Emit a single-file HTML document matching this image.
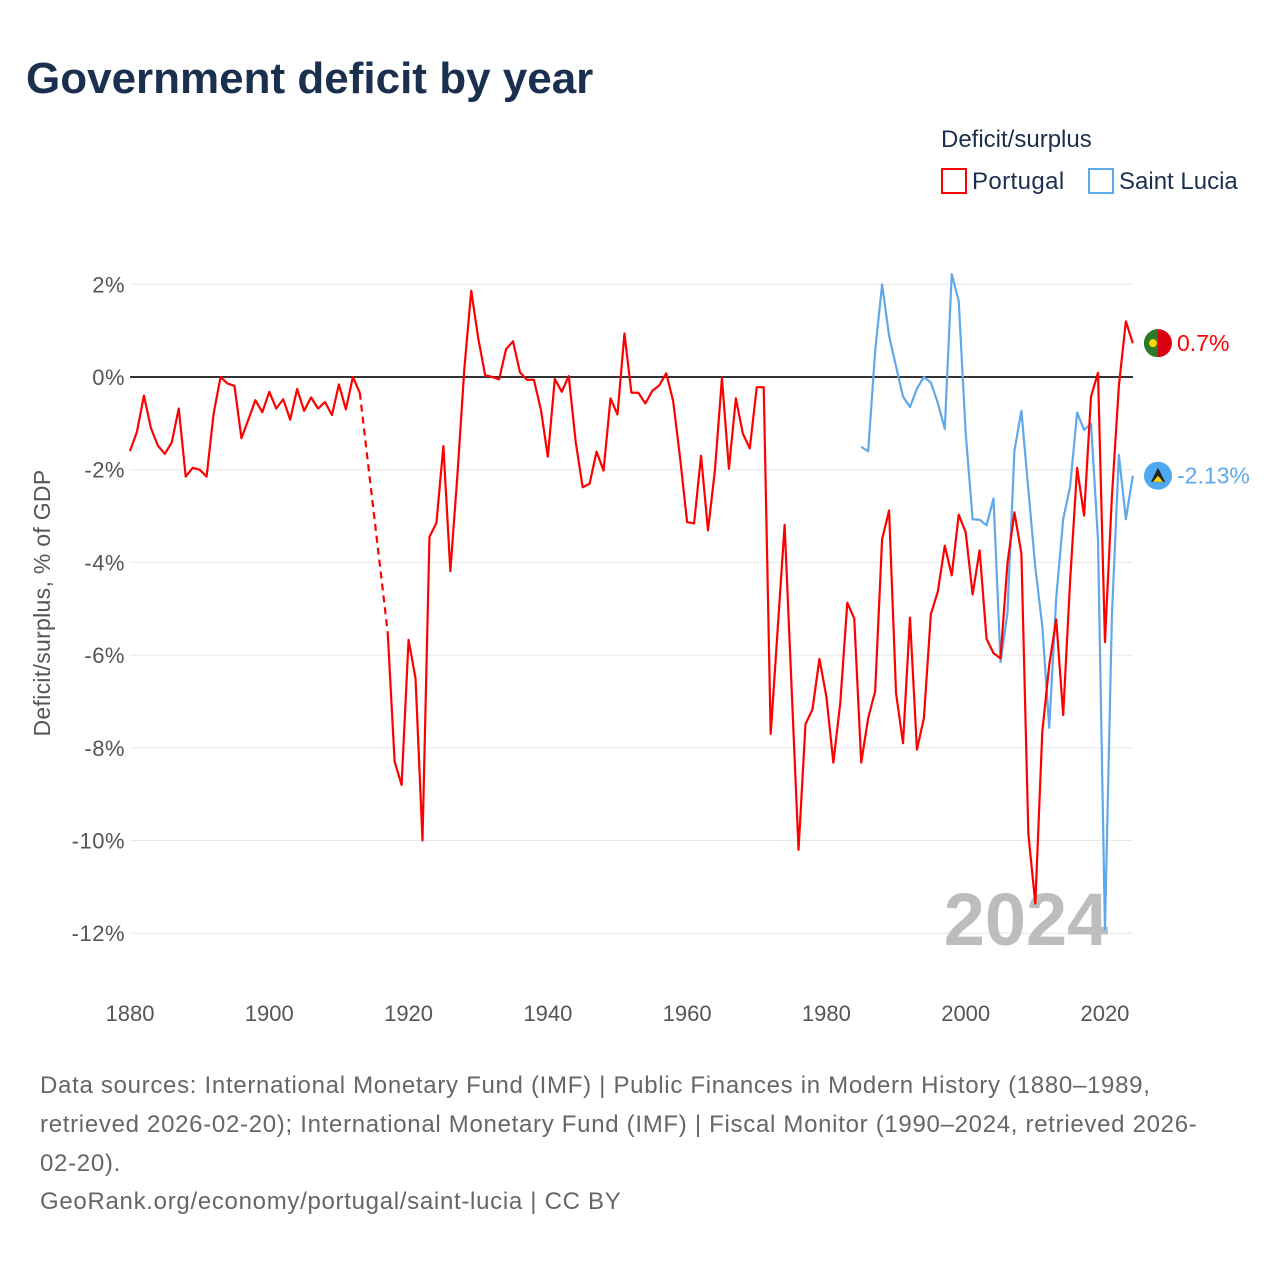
<!DOCTYPE html>
<html><head><meta charset="utf-8"><style>
body{margin:0;background:#fff;font-family:"Liberation Sans",sans-serif;}
svg text{font-family:"Liberation Sans",sans-serif;}
</style></head><body>
<svg width="1280" height="1280" xmlns="http://www.w3.org/2000/svg">
<text x="26" y="93" font-size="44" font-weight="bold" fill="#1b2f4f">Government deficit by year</text>
<text x="941" y="147" font-size="24" fill="#1b2f4f">Deficit/surplus</text>
<g><rect x="942" y="169" width="24" height="24" fill="none" stroke="#f00" stroke-width="2"/><text x="972" y="189" font-size="24" fill="#1b2f4f" letter-spacing="0.4">Portugal</text></g>
<g><rect x="1089" y="169" width="24" height="24" fill="none" stroke="#5fa8ea" stroke-width="2"/><text x="1119" y="189" font-size="24" fill="#1b2f4f">Saint Lucia</text></g>
<g id="grid"></g>
<text x="1026" y="945" font-size="74" font-weight="bold" fill="#bdbdbd" text-anchor="middle">2024</text>
<g id="marks"></g>
<text transform="translate(50,603) rotate(-90)" font-size="23" fill="#555" text-anchor="middle" letter-spacing="0.3">Deficit/surplus, % of GDP</text>
<g font-size="24" fill="#666" letter-spacing="0.7">
<text x="40" y="1093">Data sources: International Monetary Fund (IMF) | Public Finances in Modern History (1880–1989,</text>
<text x="40" y="1132">retrieved 2026-02-20); International Monetary Fund (IMF) | Fiscal Monitor (1990–2024, retrieved 2026-</text>
<text x="40" y="1171">02-20).</text>
<text x="40" y="1209">GeoRank.org/economy/portugal/saint-lucia | CC BY</text>
</g>
</svg>
<script>
const yTicks=[2,0,-2,-4,-6,-8,-10,-12];
const xTicks=[1880,1900,1920,1940,1960,1980,2000,2020];
const ptStart=1880;
const portugal=[-1.6,-1.18,-0.4,-1.1,-1.48,-1.66,-1.41,-0.68,-2.15,-1.96,-2.0,-2.15,-0.8,0,-0.14,-0.19,-1.32,-0.92,-0.5,-0.76,-0.32,-0.68,-0.48,-0.92,-0.26,-0.73,-0.44,-0.68,-0.54,-0.82,-0.16,-0.7,0,-0.34,null,null,null,-5.5,-8.3,-8.8,-5.67,-6.5,-10,-3.45,-3.15,-1.49,-4.19,-2.15,0.16,1.86,0.84,0.04,0,-0.05,0.6,0.77,0.1,-0.06,-0.06,-0.7,-1.72,-0.04,-0.32,0.02,-1.4,-2.38,-2.3,-1.61,-2.02,-0.46,-0.81,0.94,-0.34,-0.34,-0.57,-0.3,-0.18,0.08,-0.52,-1.76,-3.13,-3.16,-1.7,-3.31,-2.0,-0.02,-1.98,-0.46,-1.22,-1.54,-0.22,-0.22,-7.7,-5.45,-3.19,-6.7,-10.2,-7.49,-7.17,-6.08,-6.9,-8.32,-7.02,-4.87,-5.21,-8.32,-7.36,-6.78,-3.5,-2.88,-6.82,-7.9,-5.19,-8.04,-7.36,-5.12,-4.63,-3.64,-4.28,-2.97,-3.35,-4.69,-3.74,-5.65,-5.96,-6.07,-4.02,-2.92,-3.81,-9.86,-11.36,-7.66,-6.21,-5.23,-7.29,-4.39,-1.96,-2.99,-0.42,0.09,-5.72,-2.57,-0.19,1.2,0.73];
const slStart=1985;
const saintLucia=[-1.51,-1.6,0.56,2.0,0.89,0.23,-0.42,-0.65,-0.25,0,-0.12,-0.56,-1.12,2.22,1.64,-1.21,-3.07,-3.08,-3.2,-2.62,-6.15,-5.09,-1.59,-0.73,-2.43,-4.11,-5.37,-7.57,-4.77,-3.07,-2.36,-0.77,-1.14,-1.01,-3.5,-11.92,-5.14,-1.68,-3.07,-2.13];
const endLabels=["0.7%","-2.13%"];
const NS="http://www.w3.org/2000/svg";
const X=y=>130+(y-1880)*6.964;
const Y=v=>377-v*46.35;
const grid=document.getElementById('grid'),marks=document.getElementById('marks');
function mk(t,a,p){const e=document.createElementNS(NS,t);for(const k in a)e.setAttribute(k,a[k]);p.appendChild(e);return e;}
yTicks.forEach(v=>{
 const l=mk('line',{x1:130,x2:1133,y1:Y(v),y2:Y(v),stroke:v===0?'#333':'#e6e6e6','stroke-width':v===0?2:1},grid);
 
 
 const t=mk('text',{x:125,y:Y(v)+8,'text-anchor':'end','font-size':22,fill:'#555','letter-spacing':0.5},grid);
 t.textContent=v+'%';
 
 
});
xTicks.forEach(yr=>{
 const t=mk('text',{x:X(yr),y:1021,'text-anchor':'middle','font-size':22,fill:'#555'},grid);
 t.textContent=yr;
 
 
});
function series(data,start,color,name){
 let segs=[],cur=[],gaps=[];let last=null;
 data.forEach((v,i)=>{
  if(v===null){if(cur.length){segs.push(cur);cur=[];}return;}
  const p=[X(start+i),Y(v)];
  if(last&&last.gap)gaps.push([last.p,p]);
  cur.push(p);last={p:p,gap:false};
  if(data[i+1]===null)last.gap=true;
 });
 if(cur.length)segs.push(cur);
 segs.forEach(s=>{
  const e=mk('polyline',{points:s.map(p=>p.join(',')).join(' '),fill:'none',stroke:color,'stroke-width':2.2,'stroke-linejoin':'round'},marks);
  
  
 });
 gaps.forEach(g=>{
  const e=mk('line',{x1:g[0][0],y1:g[0][1],x2:g[1][0],y2:g[1][1],stroke:color,'stroke-width':2.2,'stroke-dasharray':'7,5'},marks);
  
  
 });
}
series(saintLucia,slStart,'#5fa8ea','saint-lucia');
series(portugal,ptStart,'#f00','portugal');
const pv=portugal[portugal.length-1],sv=saintLucia[saintLucia.length-1];
const g1=mk('g',{},marks);


mk('circle',{cx:1158,cy:Y(pv),r:14,fill:'#da0010'},g1);
mk('path',{d:`M1158 ${Y(pv)-14} A14 14 0 0 0 1158 ${Y(pv)+14} Z`,fill:'#2a7a2a'},g1);
mk('circle',{cx:1153,cy:Y(pv),r:4,fill:'#ffd700'},g1);
const t1=mk('text',{x:1177,y:Y(pv)+8,'font-size':23,fill:'#f00'},g1);t1.textContent=endLabels[0];
const g2=mk('g',{},marks);


mk('circle',{cx:1158,cy:Y(sv),r:14,fill:'#4fa8f0'},g2);
mk('path',{d:`M1158 ${Y(sv)-8} L1165 ${Y(sv)+6} L1151 ${Y(sv)+6} Z`,fill:'#222'},g2);
mk('path',{d:`M1158 ${Y(sv)} L1163 ${Y(sv)+6} L1153 ${Y(sv)+6} Z`,fill:'#ffd700'},g2);
const t2=mk('text',{x:1177,y:Y(sv)+8,'font-size':23,fill:'#5fa8ea'},g2);t2.textContent=endLabels[1];
</script>
</body></html>
